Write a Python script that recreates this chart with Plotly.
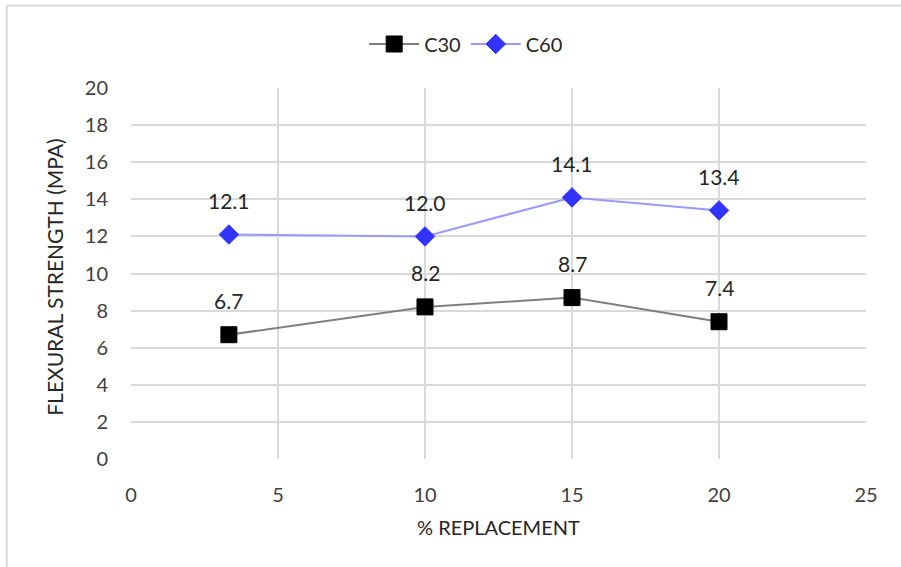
import plotly.graph_objects as go

# Replacement levels (%) and flexural strength (MPa) for each concrete grade
replacement = [3.33, 10, 15, 20]
c30_strength = [6.7, 8.2, 8.7, 7.4]
c60_strength = [12.1, 12.0, 14.1, 13.4]

x_ticks = [0, 5, 10, 15, 20, 25]
y_ticks = [0, 2, 4, 6, 8, 10, 12, 14, 16, 18, 20]

FONT = "Lato"
GRID = "#d9d9d9"
TEXT = "#262626"

fig = go.Figure()

fig.add_trace(go.Scatter(
    x=replacement, y=c30_strength, name="C30", mode="lines+markers",
    line=dict(color="#7f7f7f", width=2),
    marker=dict(symbol="square", size=16, color="#000000",
                line=dict(color="#000000", width=1)),
))
fig.add_trace(go.Scatter(
    x=replacement, y=c60_strength, name="C60", mode="lines+markers",
    line=dict(color="#9999ff", width=2),
    marker=dict(symbol="diamond", size=15, color="#3333ff",
                line=dict(color="#3333ff", width=1)),
))

# value labels above each point
for series in (c30_strength, c60_strength):
    for xv, yv in zip(replacement, series):
        fig.add_annotation(
            x=xv, y=yv, text=f"{yv:.1f}", showarrow=False,
            yshift=34, font=dict(family=FONT, size=21, color=TEXT),
        )

# axis titles
fig.add_annotation(
    x=0.5, y=-0.183, xref="paper", yref="paper", showarrow=False,
    text="% REPLACEMENT", xanchor="center", yanchor="middle",
    font=dict(family=FONT, size=20, color=TEXT),
)
fig.add_annotation(
    x=-0.104, y=0.49, xref="paper", yref="paper", showarrow=False,
    text="FLEXURAL STRENGTH (MPA)", textangle=-90,
    xanchor="center", yanchor="middle",
    font=dict(family=FONT, size=21, color=TEXT),
)

# outer frame of the chart area (top and left edges)
fig.add_shape(type="line", xref="paper", yref="paper",
              x0=-0.169, x1=1.1, y0=1.2224, y1=1.2224,
              line=dict(color=GRID, width=2))
fig.add_shape(type="line", xref="paper", yref="paper",
              x0=-0.169, x1=-0.169, y0=-0.3, y1=1.2224,
              line=dict(color=GRID, width=2))

fig.update_layout(
    width=901, height=567,
    margin=dict(l=131, r=35, t=88, b=108, autoexpand=False),
    paper_bgcolor="white", plot_bgcolor="white",
    font=dict(family=FONT, color=TEXT),
    legend=dict(orientation="h", x=0.456, xanchor="center", y=1.1186,
                yanchor="middle", font=dict(family=FONT, size=20, color=TEXT),
                bgcolor="rgba(0,0,0,0)", traceorder="normal",
                itemwidth=50),
    xaxis=dict(
        range=[0, 25], tickvals=x_ticks, showgrid=True, gridcolor=GRID,
        gridwidth=2, zeroline=False, showline=False, automargin=False,
        tickfont=dict(family=FONT, size=20, color="#404040"),
        ticks="", ticklabelstandoff=22,
    ),
    yaxis=dict(
        range=[0, 20], tickvals=y_ticks, showgrid=True, gridcolor=GRID,
        gridwidth=2, zeroline=False, showline=False, automargin=False,
        tickfont=dict(family=FONT, size=20, color="#404040"),
        ticks="", ticklabelstandoff=22,
    ),
    showlegend=True,
)

fig.write_html("out.html")
